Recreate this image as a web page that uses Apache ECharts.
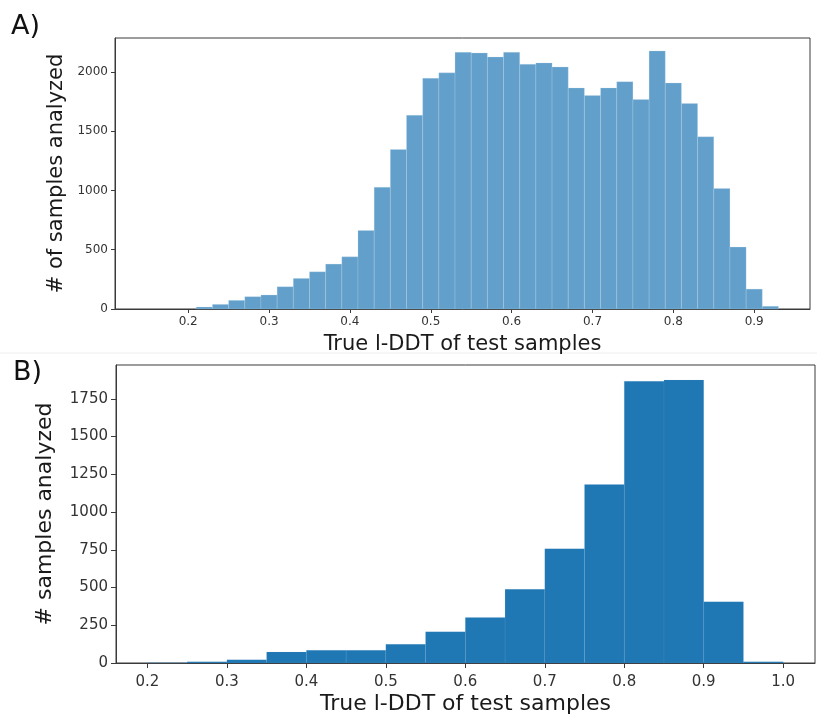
<!DOCTYPE html>
<html>
<head>
<meta charset="utf-8">
<script src="https://cdn.jsdelivr.net/npm/echarts@6/dist/echarts.min.js"></script>
<style>
  html, body { margin: 0; padding: 0; background: #fff; }
  #chart { width: 817px; height: 722px; }
</style>
</head>
<body>
<div id="chart"></div>
<script>
// Panel A: histogram of true l-DDT values (bin width 0.02)
const edgesA = [0.21, 0.23, 0.25, 0.27, 0.29, 0.31, 0.33, 0.35, 0.37, 0.39, 0.41, 0.43,
  0.45, 0.47, 0.49, 0.51, 0.53, 0.55, 0.57, 0.59, 0.61, 0.63, 0.65, 0.67, 0.69, 0.71,
  0.73, 0.75, 0.77, 0.79, 0.81, 0.83, 0.85, 0.87, 0.89, 0.91, 0.93];
const countsA = [17, 39, 73, 104, 118, 188, 258, 314, 379, 440, 662, 1027,
  1346, 1635, 1946, 1992, 2165, 2160, 2126, 2165, 2064, 2076, 2042, 1865, 1801, 1865,
  1918, 1767, 2177, 1907, 1733, 1453, 1016, 522, 168, 23];

// Panel B: histogram of true l-DDT values (bin width 0.05)
const edgesB = [0.20, 0.25, 0.30, 0.35, 0.40, 0.45, 0.50, 0.55, 0.60, 0.65, 0.70,
  0.75, 0.80, 0.85, 0.90, 0.95, 1.00];
const countsB = [1, 9, 22, 73, 84, 84, 125, 207, 302, 489, 757, 1182, 1867, 1875, 405, 9];

// Tick labels
const xTicksA = [0.2, 0.3, 0.4, 0.5, 0.6, 0.7, 0.8, 0.9];
const yTicksA = [0, 500, 1000, 1500, 2000];
const xTicksB = [0.2, 0.3, 0.4, 0.5, 0.6, 0.7, 0.8, 0.9, 1.0];
const yTicksB = [0, 250, 500, 750, 1000, 1250, 1500, 1750];

const FONT = 'DejaVu Sans';
const AXIS_COLOR = '#3a3a3a';

function bins(edges, counts) {
  return counts.map((c, i) => [edges[i], edges[i + 1], c]);
}

function histRenderer(fill, stroke, lw) {
  return function (params, api) {
    const x0 = api.value(0), x1 = api.value(1), y = api.value(2);
    const p0 = api.coord([x0, y]);
    const p1 = api.coord([x1, 0]);
    return {
      type: 'rect',
      shape: { x: p0[0], y: p0[1], width: p1[0] - p0[0], height: p1[1] - p0[1] },
      style: { fill: fill, stroke: stroke, lineWidth: lw }
    };
  };
}

function xAxisCfg(gridIndex, min, max, ticks, fontSize, nameSize, nameGap, tickLen, labelMargin) {
  return {
    type: 'value', gridIndex: gridIndex, min: min, max: max,
    name: 'True l-DDT of test samples', nameLocation: 'middle', nameGap: nameGap,
    nameTextStyle: { fontFamily: FONT, fontSize: nameSize, color: '#1a1a1a' },
    splitLine: { show: false },
    axisLine: { show: true, lineStyle: { color: AXIS_COLOR, width: 1 } },
    axisTick: { show: true, length: tickLen, customValues: ticks, lineStyle: { color: AXIS_COLOR } },
    axisLabel: {
      customValues: ticks, fontFamily: FONT, fontSize: fontSize, color: '#333', margin: labelMargin,
      formatter: v => v.toFixed(1)
    }
  };
}

function yAxisCfg(gridIndex, max, ticks, name, fontSize, nameSize, nameGap, tickLen, labelMargin) {
  return {
    type: 'value', gridIndex: gridIndex, min: 0, max: max,
    name: name, nameLocation: 'middle', nameGap: nameGap,
    nameTextStyle: { fontFamily: FONT, fontSize: nameSize, color: '#1a1a1a' },
    splitLine: { show: false },
    axisLine: { show: true, lineStyle: { color: AXIS_COLOR, width: 1 } },
    axisTick: { show: true, length: tickLen, customValues: ticks, lineStyle: { color: AXIS_COLOR } },
    axisLabel: {
      customValues: ticks, fontFamily: FONT, fontSize: fontSize, color: '#333', margin: labelMargin,
      formatter: v => String(Math.round(v))
    }
  };
}

const chart = echarts.init(document.getElementById('chart'), null, { renderer: 'canvas' });

chart.setOption({
  backgroundColor: '#ffffff',
  animation: false,
  title: [
    { text: 'A)', left: 6, top: 8, textStyle: { fontFamily: FONT, fontSize: 27, fontWeight: 'normal', color: '#111' } },
    { text: 'B)', left: 8, top: 354, textStyle: { fontFamily: FONT, fontSize: 27, fontWeight: 'normal', color: '#111' } }
  ],
  graphic: [
    { type: 'line', shape: { x1: 0, y1: 353, x2: 817, y2: 353 }, style: { stroke: '#eeeeee', lineWidth: 1 }, silent: true }
  ],
  grid: [
    { left: 115, top: 38, width: 695, height: 271, show: true, borderColor: AXIS_COLOR, borderWidth: 1, backgroundColor: 'transparent' },
    { left: 116, top: 365, width: 699, height: 298, show: true, borderColor: AXIS_COLOR, borderWidth: 1, backgroundColor: 'transparent' }
  ],
  xAxis: [
    xAxisCfg(0, 0.1095, 0.969, xTicksA, 12, 21, 25, 4, 7),
    xAxisCfg(1, 0.1605, 1.04, xTicksB, 15, 22, 30, 5, 12)
  ],
  yAxis: [
    yAxisCfg(0, 2286, yTicksA, '# of samples analyzed', 12, 21, 46, 4, 7),
    yAxisCfg(1, 1974, yTicksB, '# samples analyzed', 15, 22, 60, 5, 8)
  ],
  series: [
    {
      type: 'custom', xAxisIndex: 0, yAxisIndex: 0,
      renderItem: histRenderer('#62a0cb', 'rgba(200,222,238,0.6)', 0.4),
      encode: { x: [0, 1], y: 2 },
      data: bins(edgesA, countsA)
    },
    {
      type: 'custom', xAxisIndex: 1, yAxisIndex: 1,
      renderItem: histRenderer('#1f77b4', 'rgba(150,190,220,0.35)', 0.3),
      encode: { x: [0, 1], y: 2 },
      data: bins(edgesB, countsB)
    }
  ]
});
</script>
</body>
</html>
